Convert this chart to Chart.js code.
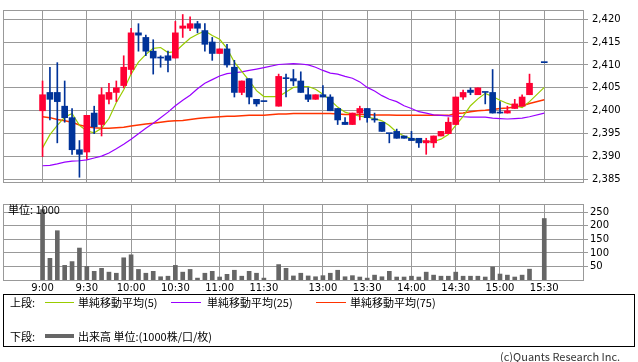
<!DOCTYPE html>
<html><head><meta charset="utf-8">
<script src="https://cdn.jsdelivr.net/npm/chart.js@4.4.1/dist/chart.umd.min.js"></script>
<style>
html,body{margin:0;padding:0;background:#fff;}
body{width:638px;height:362px;position:relative;overflow:hidden;font-family:"DejaVu Sans","Noto Sans CJK JP",sans-serif;}
canvas{position:absolute;left:0;}
#c1{top:0;}
#c2{top:196px;}
.t{position:absolute;font-family:"Noto Sans CJK JP",sans-serif;font-size:11px;line-height:14px;color:#000;white-space:nowrap;}
.ln{position:absolute;height:1px;}
#legend{position:absolute;left:3px;top:294px;width:632px;height:53px;border:1px solid #000;box-sizing:border-box;}
</style>
</head><body>
<canvas id="c1" width="638" height="192"></canvas>
<canvas id="c2" width="638" height="100"></canvas>
<div class="t" style="left:8px;top:202px;">単位: 1000</div>
<div id="legend"></div>
<div class="t" style="left:10px;top:295px;">上段:</div>
<div class="ln" style="left:45px;top:302px;width:29px;background:#99cc00;"></div>
<div class="t" style="left:78px;top:295px;">単純移動平均(5)</div>
<div class="ln" style="left:171px;top:302px;width:30px;background:#9900ff;"></div>
<div class="t" style="left:207px;top:295px;">単純移動平均(25)</div>
<div class="ln" style="left:316px;top:302px;width:30px;background:#ff3300;"></div>
<div class="t" style="left:350px;top:295px;">単純移動平均(75)</div>
<div class="t" style="left:10px;top:329px;">下段:</div>
<div class="ln" style="left:45px;top:334px;width:29px;height:4px;background:#666;"></div>
<div class="t" style="left:78px;top:329px;">出来高 単位:(1000株/口/枚)</div>
<div class="t" style="left:500px;top:349px;color:#333;">(c)Quants Research Inc.</div>
<script>
// ---- data ----
const times = ['9:00','9:05','9:10','9:15','9:20','9:25','9:30','9:35','9:40','9:45','9:50','9:55',
 '10:00','10:05','10:10','10:15','10:20','10:25','10:30','10:35','10:40','10:45','10:50','10:55',
 '11:00','11:05','11:10','11:15','11:20','11:25','11:30','',
 '12:30','12:35','12:40','12:45','12:50','12:55',
 '13:00','13:05','13:10','13:15','13:20','13:25','13:30','13:35','13:40','13:45','13:50','13:55',
 '14:00','14:05','14:10','14:15','14:20','14:25','14:30','14:35','14:40','14:45','14:50','14:55',
 '15:00','15:05','15:10','15:15','15:20','15:25','15:30'];
const tickLabels = ['9:00','9:30','10:00','10:30','11:00','11:30','13:00','13:30','14:00','14:30','15:00','15:30'];
const priceTicks = [2385,2390,2395,2400,2405,2410,2415,2420];
const volumeTicks = [50,100,150,200,250];

const opens  = [2400,2404,2404,2401,2398.5,2391.5,2391,2399.5,2397,2402.5,2404,2405.5,
 2409,2417,2416,2413,2411.5,2412,2411.5,2418,2418,2419,2417.5,2415,
 2412.5,2413.5,2409.5,2404,2407,2402.5,2402,null,
 2401,2407,2407,2406.5,2403.5,2402.5,
 2403.5,2403,2400.5,2397.5,2397,2399.5,2400.5,2398,2397.5,2395,2395.5,2394.5,
 2394,2394,2393,2393,2394.5,2395,2397,2403,2404.5,2403.5,2404,2404,
 2399.5,2399.5,2400.5,2401,2403.5,null,2410.5];
const highs  = [2406.5,2409.5,2410.5,2406.5,2400.5,2393.5,2399,2401,2405,2406,2406.5,2412,
 2418,2419,2416.5,2415.5,2412,2413,2419.5,2421,2420.5,2419.5,2419,2416,
 2413.5,2414.5,2411,2406.5,2407,2402.5,2402,null,
 2408,2408,2409,2408.5,2405,2403.5,
 2405.5,2403.5,2400.5,2398.5,2399.5,2401,2400.5,2399.5,2397.5,2395,2396,2394.5,
 2395.5,2394,2394,2394.5,2395.5,2398.5,2403,2404.5,2405,2405,2404,2409,
 2402,2401,2402.5,2403.5,2408,null,2410.5];
const lows   = [2390,2398,2393,2397.5,2390.5,2385.5,2389.5,2395,2394.5,2401.5,2402,2405,
 2408,2413,2412,2408,2409.5,2408.5,2411.5,2416,2417.5,2417,2413,2411,
 2412.5,2409.5,2403,2403.5,2401.5,2401,2402,null,
 2401,2403,2405.5,2404,2402,2402.5,
 2403,2400,2397,2397,2397,2398,2397.5,2397.5,2395.5,2393,2394,2394,
 2393.5,2392,2390.5,2392,2394.5,2395,2397,2402.5,2403.5,2403.5,2401.5,2399.5,
 2399.5,2399.5,2400.5,2401,2403.5,null,2410.5];
const closes = [2403.5,2402.5,2402,2398.5,2391.5,2390.5,2399,2396.5,2403.5,2404,2405,2409.5,
 2417,2416.5,2413,2411.5,2411.5,2411,2417,2418.5,2419,2418,2414.5,2412.5,
 2413.5,2410,2404,2406.5,2403,2401.5,2402,null,
 2407.5,2407,2406.5,2404,2402.5,2403.5,
 2403,2400,2398,2397,2399.5,2400.5,2398.5,2398,2395.5,2395,2394,2394,
 2393.5,2393,2393.5,2394.5,2395.5,2397.5,2403,2404,2404,2405,2404,2399.5,
 2399.5,2400,2401.5,2403,2406,null,2410.5];
const volumes = [260,80,182,54,68,118,50,32,43,29,25,82,
 93,39,25,32,12,14,54,29,39,7,25,32,
 11,21,36,14,32,25,7,null,
 57,43,15,25,15,12,
 16,25,36,12,16,11,7,18,12,32,11,11,
 14,11,29,18,14,14,29,14,14,14,11,48,
 22,18,11,18,40,null,227];
const ma5 = [2391.9,2394.8,2396.8,2398.6,2399.4,2396.8,2395.6,2395.2,2396.2,2398.3,2401.8,2404.6,
 2408,2410.6,2412.3,2413.6,2413.8,2412.7,2412.9,2414.4,2415.8,2416.7,2417.4,2416.4,
 2415.6,2413.6,2410.6,2408.6,2406.6,2404.4,2403.1,null,
 2403.1,2404.1,2405.1,2405.3,2405.3,2404.7,
 2403.6,2402.3,2400.8,2399.7,2399.2,2398.8,2398.6,2398.3,2397.8,2396.8,2395.3,2394.5,
 2393.9,2393.5,2393.3,2393.3,2393.8,2394.8,2396.8,2398.8,2401.1,2402.6,2403.8,2403.1,
 2402.3,2401.6,2401.1,2400.7,2402,null,2405.1];
const ma25 = [2388,2388.1,2388.4,2388.8,2389,2389.1,2389.3,2389.7,2390.1,2390.8,2391.7,2392.7,
 2393.8,2395,2396.2,2397.3,2398.5,2399.7,2401.1,2402.3,2403.4,2404.8,2406,2406.8,
 2407.6,2408.1,2408.3,2408.5,2408.8,2409.1,2409.4,null,
 2410.1,2410.2,2410.3,2410.2,2410,2409.5,
 2408.8,2408.2,2408,2407.5,2407.1,2406.3,2405.1,2404.3,2403.3,2402.5,2402,2401.1,
 2400.5,2399.8,2399.5,2399.1,2399,2398.9,2398.8,2398.7,2398.6,2398.6,2398.6,2398.4,
 2398.3,2398.2,2398.3,2398.4,2398.7,null,2399.5];
const ma75 = [2398.7,2398.5,2398.1,2397.8,2397.5,2396.9,2396.5,2396.3,2396.2,2396.2,2396.3,2396.4,
 2396.7,2396.9,2397.1,2397.3,2397.5,2397.7,2397.8,2397.9,2398.1,2398.3,2398.5,2398.6,
 2398.7,2398.8,2398.8,2398.9,2399,2399,2399,null,
 2399.3,2399.3,2399.4,2399.4,2399.4,2399.4,
 2399.4,2399.4,2399.3,2399.2,2399.2,2399.2,2399.2,2399.1,2399.1,2399.1,2399,2399,
 2399,2399,2399,2399,2399,2399,2399.4,2399.5,2399.8,2400,2400.1,2400.3,
 2400.5,2400.6,2400.8,2401.1,2401.6,null,2402.4];

// ---- build ----
const RED = '#ff0033', BLUE = '#003399', GRID = '#999999';
const X_MIN = -5.36, X_MAX = 73.25;
const tickSlots = tickLabels.map(t => times.indexOf(t));
const idx = times.map((t,i)=>i).filter(i => opens[i] !== null);
const wicks = idx.map(i => ({x:i, y:[lows[i], highs[i]], up: closes[i] > opens[i]}));
const bodies = idx.map(i => ({x:i, y:[Math.min(opens[i],closes[i]), Math.max(opens[i],closes[i])], up: closes[i] > opens[i]}));
const line = arr => idx.map(i => ({x:i, y:arr[i]}));
const vols = idx.map(i => ({x:i, y:volumes[i]}));
const candleColor = c => (c.raw && c.raw.up) ? RED : BLUE;

const frame = {id:'frame', afterDraw(chart){
  const {ctx, chartArea:a} = chart;
  ctx.save(); ctx.strokeStyle = GRID; ctx.lineWidth = 1;
  const l = Math.round(a.left)+0.5, t = Math.round(a.top)+0.5, r = Math.round(a.right)+0.5, b = Math.round(a.bottom)+0.5;
  ctx.strokeRect(l, t, r-l, b-t);
  ctx.restore();
}};

const font = {family:'"DejaVu Sans", sans-serif', size:10};
const xScale = (showLabels) => ({
  type:'linear', min:X_MIN, max:X_MAX, offset:false,
  grid:{color:GRID, offset:false, drawTicks:false, lineWidth:1},
  border:{color:GRID},
  afterBuildTicks: s => { s.ticks = tickSlots.map(v => ({value:v})); },
  ticks:{display:showLabels, autoSkip:false, maxRotation:0, minRotation:0, padding:2, color:'#000', font,
    callback: v => times[v]},
  afterFit: s => { s.height = showLabels ? 16 : 0; }
});

Chart.defaults.animation = false;

new Chart(document.getElementById('c1'), {
  type:'bar',
  data:{datasets:[
    {type:'line', data:line(ma75), borderColor:'#ff3300', borderWidth:1.5, pointRadius:0, tension:0, spanGaps:true, order:10},
    {type:'line', data:line(ma25), borderColor:'#9900ff', borderWidth:1.2, pointRadius:0, tension:0, spanGaps:true, order:9},
    {type:'line', data:line(ma5), borderColor:'#99cc00', borderWidth:1.2, pointRadius:0, tension:0, spanGaps:true, order:8},
    {type:'bar', data:wicks, barThickness:1, backgroundColor:candleColor, grouped:false, order:5},
    {type:'bar', data:bodies, barThickness:6, minBarLength:1, backgroundColor:candleColor, grouped:false, order:4}
  ]},
  options:{
    responsive:false, devicePixelRatio:1, animation:false,
    layout:{padding:{left:3, top:1, right:0, bottom:2}},
    plugins:{legend:{display:false}, tooltip:{enabled:false}},
    scales:{
      x: xScale(false),
      y:{position:'right', min:2384.46, max:2421.985,
        grid:{color:GRID, drawTicks:true, tickLength:5},
        border:{color:GRID},
        afterBuildTicks: s => { s.ticks = priceTicks.map(v => ({value:v})); },
        ticks:{color:'#000', font, padding:4, callback: v => v.toLocaleString('en-US')},
        afterFit: s => { s.width = 55; }
      }
    }
  },
  plugins:[frame]
});

new Chart(document.getElementById('c2'), {
  type:'bar',
  data:{datasets:[
    {type:'bar', data:vols, barThickness:4, backgroundColor:'#666666', grouped:false}
  ]},
  options:{
    responsive:false, devicePixelRatio:1, animation:false,
    layout:{padding:{left:3, top:6, right:0, bottom:0}},
    plugins:{legend:{display:false}, tooltip:{enabled:false}},
    scales:{
      x: xScale(true),
      y:{position:'right', min:0, max:280.6,
        grid:{color:GRID, drawTicks:true, tickLength:5},
        border:{color:GRID},
        afterBuildTicks: s => { s.ticks = volumeTicks.map(v => ({value:v})); },
        ticks:{color:'#000', font, padding:2},
        afterFit: s => { s.width = 55; }
      }
    }
  },
  plugins:[frame]
});
</script>
</body></html>
